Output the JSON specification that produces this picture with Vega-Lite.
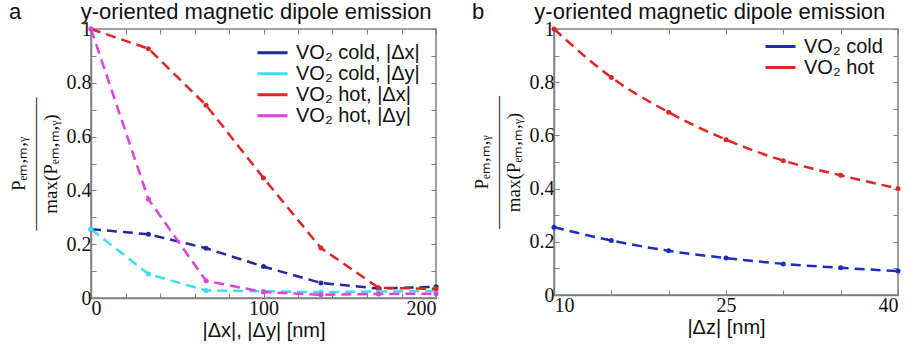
{
  "$schema": "https://vega.github.io/schema/vega-lite/v6.json",
  "padding": {"left": 8, "top": 0, "right": 0, "bottom": 0},
  "spacing": 29,
  "config": {
    "font": "Liberation Sans",
    "view": {"stroke": "#808080", "strokeWidth": 1.5},
    "axis": {
      "grid": false,
      "domainColor": "#808080",
      "domainWidth": 1.5,
      "tickColor": "#808080",
      "tickSize": -5,
      "tickWidth": 1,
      "labelFont": "Liberation Serif",
      "labelFontSize": 20,
      "labelColor": "#111111",
      "labelPadding": 5,
      "titleFont": "Liberation Sans",
      "titleFontSize": 20,
      "titleFontWeight": "normal",
      "titleColor": "#111111"
    },
    "axisX": {"titlePadding": 2},
    "axisY": {
      "titleFont": "Liberation Serif",
      "titleFontSize": 19,
      "titleLineHeight": 16,
      "titlePadding": 6
    },
    "title": {"fontSize": 22, "fontWeight": "normal", "color": "#111111", "anchor": "start", "frame": "bounds", "offset": -7, "dy": -2},
    "legend": {
      "orient": "none",
      "labelFont": "Liberation Sans",
      "labelFontSize": 20,
      "labelColor": "#111111",
      "symbolType": "stroke",
      "symbolSize": 900,
      "symbolStrokeWidth": 3,
      "symbolDash": [1, 0],
      "labelOffset": 7,
      "padding": 0,
      "rowPadding": 0,
      "title": null
    }
  },
  "datasets": {
    "a": [
      {"dx": 0, "value": 0.256, "series": "VO₂ cold, |Δx|"},
      {"dx": 33.3, "value": 0.237, "series": "VO₂ cold, |Δx|"},
      {"dx": 66.7, "value": 0.185, "series": "VO₂ cold, |Δx|"},
      {"dx": 100, "value": 0.117, "series": "VO₂ cold, |Δx|"},
      {"dx": 133.3, "value": 0.056, "series": "VO₂ cold, |Δx|"},
      {"dx": 166.7, "value": 0.035, "series": "VO₂ cold, |Δx|"},
      {"dx": 200, "value": 0.042, "series": "VO₂ cold, |Δx|"},
      {"dx": 0, "value": 0.256, "series": "VO₂ cold, |Δy|"},
      {"dx": 33.3, "value": 0.089, "series": "VO₂ cold, |Δy|"},
      {"dx": 66.7, "value": 0.028, "series": "VO₂ cold, |Δy|"},
      {"dx": 100, "value": 0.025, "series": "VO₂ cold, |Δy|"},
      {"dx": 133.3, "value": 0.022, "series": "VO₂ cold, |Δy|"},
      {"dx": 166.7, "value": 0.024, "series": "VO₂ cold, |Δy|"},
      {"dx": 200, "value": 0.026, "series": "VO₂ cold, |Δy|"},
      {"dx": 0, "value": 1.0, "series": "VO₂ hot, |Δx|"},
      {"dx": 33.3, "value": 0.927, "series": "VO₂ hot, |Δx|"},
      {"dx": 66.7, "value": 0.717, "series": "VO₂ hot, |Δx|"},
      {"dx": 100, "value": 0.446, "series": "VO₂ hot, |Δx|"},
      {"dx": 133.3, "value": 0.186, "series": "VO₂ hot, |Δx|"},
      {"dx": 166.7, "value": 0.038, "series": "VO₂ hot, |Δx|"},
      {"dx": 200, "value": 0.034, "series": "VO₂ hot, |Δx|"},
      {"dx": 0, "value": 1.0, "series": "VO₂ hot, |Δy|"},
      {"dx": 33.3, "value": 0.367, "series": "VO₂ hot, |Δy|"},
      {"dx": 66.7, "value": 0.064, "series": "VO₂ hot, |Δy|"},
      {"dx": 100, "value": 0.022, "series": "VO₂ hot, |Δy|"},
      {"dx": 133.3, "value": 0.012, "series": "VO₂ hot, |Δy|"},
      {"dx": 166.7, "value": 0.015, "series": "VO₂ hot, |Δy|"},
      {"dx": 200, "value": 0.016, "series": "VO₂ hot, |Δy|"}
    ],
    "b": [
      {"dz": 10, "value": 0.255, "series": "VO₂ cold"},
      {"dz": 15, "value": 0.205, "series": "VO₂ cold"},
      {"dz": 20, "value": 0.166, "series": "VO₂ cold"},
      {"dz": 25, "value": 0.139, "series": "VO₂ cold"},
      {"dz": 30, "value": 0.117, "series": "VO₂ cold"},
      {"dz": 35, "value": 0.102, "series": "VO₂ cold"},
      {"dz": 40, "value": 0.09, "series": "VO₂ cold"},
      {"dz": 10, "value": 1.0, "series": "VO₂ hot"},
      {"dz": 15, "value": 0.818, "series": "VO₂ hot"},
      {"dz": 20, "value": 0.687, "series": "VO₂ hot"},
      {"dz": 25, "value": 0.584, "series": "VO₂ hot"},
      {"dz": 30, "value": 0.505, "series": "VO₂ hot"},
      {"dz": 35, "value": 0.45, "series": "VO₂ hot"},
      {"dz": 40, "value": 0.40, "series": "VO₂ hot"}
    ]
  },
  "hconcat": [
    {
      "width": 345,
      "height": 269,
      "title": {"text": "a\u2002\u2002\u2002\u2002\u2002\u2009y-oriented magnetic dipole emission"},
      "data": {"name": "a"},
      "layer": [
        {
          "mark": {"type": "line", "strokeDash": [10, 6], "strokeWidth": 2.5},
          "encoding": {
            "x": {"field": "dx", "type": "quantitative", "scale": {"domain": [0, 200], "nice": false},
                  "axis": {"values": [0, 20, 40, 60, 80, 100, 120, 140, 160, 180, 200], "labelExpr": "datum.value % 100 == 0 ? datum.label : ''", "title": "|Δx|, |Δy| [nm]"}},
            "y": {"field": "value", "type": "quantitative", "scale": {"domain": [0, 1], "nice": false},
                  "axis": {"values": [0, 0.1, 0.2, 0.3, 0.4, 0.5, 0.6, 0.7, 0.8, 0.9, 1], "labelExpr": "round(datum.value * 10) % 2 == 0 ? format(datum.value, '~g') : ''", "title": ["Pₑₘ,ₘ,ᵧ", "―――――――", "max(Pₑₘ,ₘ,ᵧ)"]}},
            "color": {"field": "series", "type": "nominal",
                      "scale": {"domain": ["VO₂ cold, |Δx|", "VO₂ cold, |Δy|", "VO₂ hot, |Δx|", "VO₂ hot, |Δy|"], "range": ["#1f2a9c", "#3ddcf0", "#e02424", "#e040e0"]},
                      "legend": {"legendX": 165, "legendY": 14, "clipHeight": 19.5}}
          }
        },
        {
          "mark": {"type": "point", "filled": true, "size": 25, "opacity": 1},
          "encoding": {
            "x": {"field": "dx", "type": "quantitative", "axis": {"orient": "top", "labels": false, "title": null, "domain": false, "values": [0, 20, 40, 60, 80, 100, 120, 140, 160, 180, 200]}},
            "y": {"field": "value", "type": "quantitative", "axis": {"orient": "right", "labels": false, "title": null, "domain": false, "values": [0, 0.1, 0.2, 0.3, 0.4, 0.5, 0.6, 0.7, 0.8, 0.9, 1]}},
            "color": {"field": "series", "type": "nominal", "legend": null}
          }
        }
      ],
      "resolve": {"axis": {"x": "independent", "y": "independent"}}
    },
    {
      "width": 344,
      "height": 266,
      "title": {"text": "b\u2002\u2002\u2002\u2002 y-oriented magnetic dipole emission"},
      "data": {"name": "b"},
      "layer": [
        {
          "mark": {"type": "line", "strokeDash": [10, 6], "strokeWidth": 2.5, "interpolate": "monotone"},
          "encoding": {
            "x": {"field": "dz", "type": "quantitative", "scale": {"domain": [10, 40], "nice": false},
                  "axis": {"values": [10, 15, 20, 25, 30, 35, 40], "labelExpr": "(datum.value - 10) % 15 == 0 ? datum.label : ''", "title": "|Δz| [nm]"}},
            "y": {"field": "value", "type": "quantitative", "scale": {"domain": [0, 1], "nice": false},
                  "axis": {"values": [0, 0.1, 0.2, 0.3, 0.4, 0.5, 0.6, 0.7, 0.8, 0.9, 1], "labelExpr": "round(datum.value * 10) % 2 == 0 ? format(datum.value, '~g') : ''", "title": ["Pₑₘ,ₘ,ᵧ", "―――――――", "max(Pₑₘ,ₘ,ᵧ)"]}},
            "color": {"field": "series", "type": "nominal",
                      "scale": {"domain": ["VO₂ cold", "VO₂ hot"], "range": ["#1a2cc8", "#e02424"]},
                      "legend": {"legendX": 210, "legendY": 7, "clipHeight": 21}}
          }
        },
        {
          "mark": {"type": "point", "filled": true, "size": 25, "opacity": 1},
          "encoding": {
            "x": {"field": "dz", "type": "quantitative", "axis": {"orient": "top", "labels": false, "title": null, "domain": false, "values": [10, 15, 20, 25, 30, 35, 40]}},
            "y": {"field": "value", "type": "quantitative", "axis": {"orient": "right", "labels": false, "title": null, "domain": false, "values": [0, 0.1, 0.2, 0.3, 0.4, 0.5, 0.6, 0.7, 0.8, 0.9, 1]}},
            "color": {"field": "series", "type": "nominal", "legend": null}
          }
        }
      ],
      "resolve": {"axis": {"x": "independent", "y": "independent"}}
    }
  ],
  "resolve": {"scale": {"color": "independent"}, "legend": {"color": "independent"}}
}
